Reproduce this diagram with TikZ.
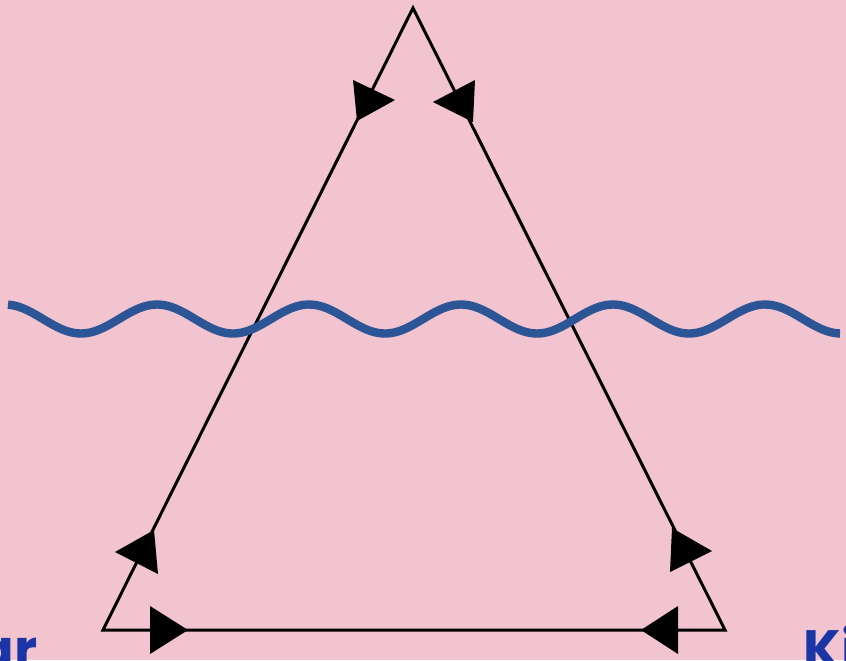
\documentclass[tikz,border=0pt]{standalone}
\usepackage{fontspec}
\newfontfamily\labelfont{Poppins}
\definecolor{bgpink}{HTML}{F2C4CF}
\definecolor{wave}{HTML}{2C5596}
\definecolor{labelblue}{HTML}{1B34A6}
\tikzset{
  edge/.style={line width=1.5pt, line join=miter},
  head/.style={fill=black},
  wavy/.style={line width=4.2pt, color=wave, line cap=butt},
  lbl/.style={font=\labelfont\bfseries\fontsize{27}{30}\selectfont, text=labelblue, inner sep=0pt}
}
\begin{document}
\begin{tikzpicture}[x=0.5pt,y=-0.5pt]
\fill[bgpink] (0,0) rectangle (846,660);
\useasboundingbox (0,0) rectangle (846,660);
\coordinate (A) at (413,8);
\coordinate (B) at (103,630);
\coordinate (C) at (725,630);
\draw[edge] (A) -- (B) -- (C) -- cycle;
% wave
\draw[wavy] plot[domain=8:840, samples=240, smooth] (\x, {319 - 14.5*cos(((\x-157)/152)*360)});
% arrowheads
\fill[head] (353,80) -- (395,100) -- (357,121) -- cycle;
\fill[head] (475,80) -- (433,102) -- (473,122) -- cycle;
\fill[head] (115,552) -- (154,530) -- (158,574) -- cycle;
\fill[head] (150,606) -- (188,630) -- (150,654) -- cycle;
\fill[head] (672,528) -- (712,551) -- (670,572) -- cycle;
\fill[head] (678,606) -- (641,630) -- (678,654) -- cycle;
% labels
\node[lbl, anchor=base east] (l1) at (38,668) {ar};
\node[lbl, anchor=base west] (l2) at (803,668) {Ki};
\end{tikzpicture}
\end{document}
